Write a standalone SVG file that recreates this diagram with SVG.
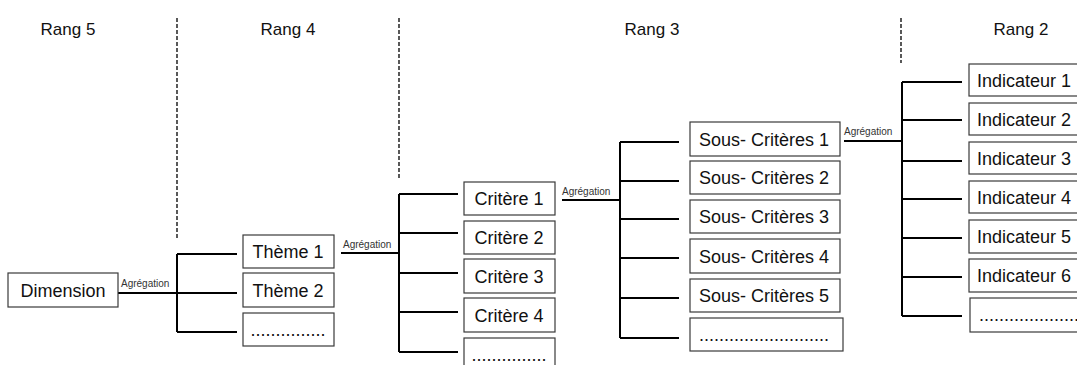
<svg xmlns="http://www.w3.org/2000/svg" width="1077" height="365" viewBox="0 0 1077 365">
<style>
.bg{fill:#ffffff}
.box{fill:#ffffff;stroke:#3a3a3a;stroke-width:1.2}
.t{font-family:"Liberation Sans",Arial,sans-serif;font-size:18px;fill:#111;text-anchor:middle}
.tl{font-family:"Liberation Sans",Arial,sans-serif;font-size:18px;fill:#111}
.rang{font-family:"Liberation Sans",Arial,sans-serif;font-size:17px;fill:#111;text-anchor:middle}
.agg{font-family:"Liberation Sans",Arial,sans-serif;font-size:10px;fill:#333}
.conn{fill:none;stroke:#000;stroke-width:2}
.dash{fill:none;stroke:#000;stroke-width:1.3;stroke-dasharray:4 2}
</style>
<rect class="bg" x="0" y="0" width="1077" height="365"/>
<g id="headers">
<text class="rang" x="68" y="35">Rang 5</text>
<text class="rang" x="288" y="35">Rang 4</text>
<text class="rang" x="652" y="35">Rang 3</text>
<text class="rang" x="1021" y="35">Rang 2</text>
<line class="dash" x1="177" y1="18" x2="177" y2="238"/>
<line class="dash" x1="399" y1="18" x2="399" y2="180"/>
<line class="dash" x1="901" y1="18" x2="901" y2="63"/>
</g>
<g id="connectors">
<path class="conn" d="M118 293H177M177 254V332M177 254H237M177 293H237M177 332H237"/>
<path class="conn" d="M341 253H399M399 194V352M399 194H458M399 233H458M399 273H458M399 312H458M399 352H458"/>
<path class="conn" d="M562 200H620M620 142V338M620 142H679M620 181H679M620 219H679M620 258H679M620 298H679M620 338H679"/>
<path class="conn" d="M844 141H902M902 82V316M902 82H962M902 120H962M902 161H962M902 199H962M902 238H962M902 277H962M902 316H962"/>
<text class="agg" x="121" y="287">Agrégation</text>
<text class="agg" x="343" y="248">Agrégation</text>
<text class="agg" x="562" y="195">Agrégation</text>
<text class="agg" x="844" y="135">Agrégation</text>
</g>
<g id="dimension"><rect class="box" x="8" y="273" width="110" height="34"/><text class="t" x="63" y="296.5">Dimension</text></g>
<g id="theme1"><rect class="box" x="243" y="235" width="91" height="33"/><text class="t" x="288" y="258">Thème 1</text></g>
<g id="theme2"><rect class="box" x="243" y="273" width="91" height="34"/><text class="t" x="288" y="296.5">Thème 2</text></g>
<g id="theme3"><rect class="box" x="243" y="313" width="91" height="33"/><text class="t" x="288" y="336">...............</text></g>
<g id="critere1"><rect class="box" x="464" y="182" width="91" height="33"/><text class="t" x="509" y="205">Critère 1</text></g>
<g id="critere2"><rect class="box" x="464" y="221" width="91" height="33"/><text class="t" x="509" y="244">Critère 2</text></g>
<g id="critere3"><rect class="box" x="464" y="259" width="91" height="34"/><text class="t" x="509" y="282.5">Critère 3</text></g>
<g id="critere4"><rect class="box" x="464" y="298" width="91" height="34"/><text class="t" x="509" y="321.5">Critère 4</text></g>
<g id="critere5"><rect class="box" x="464" y="338" width="91" height="34"/><text class="t" x="509" y="361">...............</text></g>
<g id="sc1"><rect class="box" x="690" y="122" width="150" height="34"/><text class="t" x="764" y="145.5">Sous- Critères 1</text></g>
<g id="sc2"><rect class="box" x="690" y="161" width="150" height="33"/><text class="t" x="764" y="184">Sous- Critères 2</text></g>
<g id="sc3"><rect class="box" x="690" y="200" width="150" height="33"/><text class="t" x="764" y="223">Sous- Critères 3</text></g>
<g id="sc4"><rect class="box" x="690" y="239" width="150" height="34"/><text class="t" x="764" y="262.5">Sous- Critères 4</text></g>
<g id="sc5"><rect class="box" x="690" y="279" width="150" height="33"/><text class="t" x="764" y="302">Sous- Critères 5</text></g>
<g id="sc6"><rect class="box" x="690" y="318" width="153" height="33"/><text class="t" x="764" y="341">..........................</text></g>
<g id="ind1"><rect class="box" x="969" y="64" width="130" height="32"/><text class="tl" x="977" y="86.5">Indicateur 1</text></g>
<g id="ind2"><rect class="box" x="969" y="103" width="130" height="32"/><text class="tl" x="977" y="125.5">Indicateur 2</text></g>
<g id="ind3"><rect class="box" x="969" y="142" width="130" height="32"/><text class="tl" x="977" y="164.5">Indicateur 3</text></g>
<g id="ind4"><rect class="box" x="969" y="181" width="130" height="32"/><text class="tl" x="977" y="203.5">Indicateur 4</text></g>
<g id="ind5"><rect class="box" x="969" y="220" width="130" height="33"/><text class="tl" x="977" y="243">Indicateur 5</text></g>
<g id="ind6"><rect class="box" x="969" y="259" width="130" height="33"/><text class="tl" x="977" y="282">Indicateur 6</text></g>
<g id="ind7"><rect class="box" x="970" y="298" width="130" height="34"/><text class="tl" x="979" y="321">....................</text></g>
</svg>
